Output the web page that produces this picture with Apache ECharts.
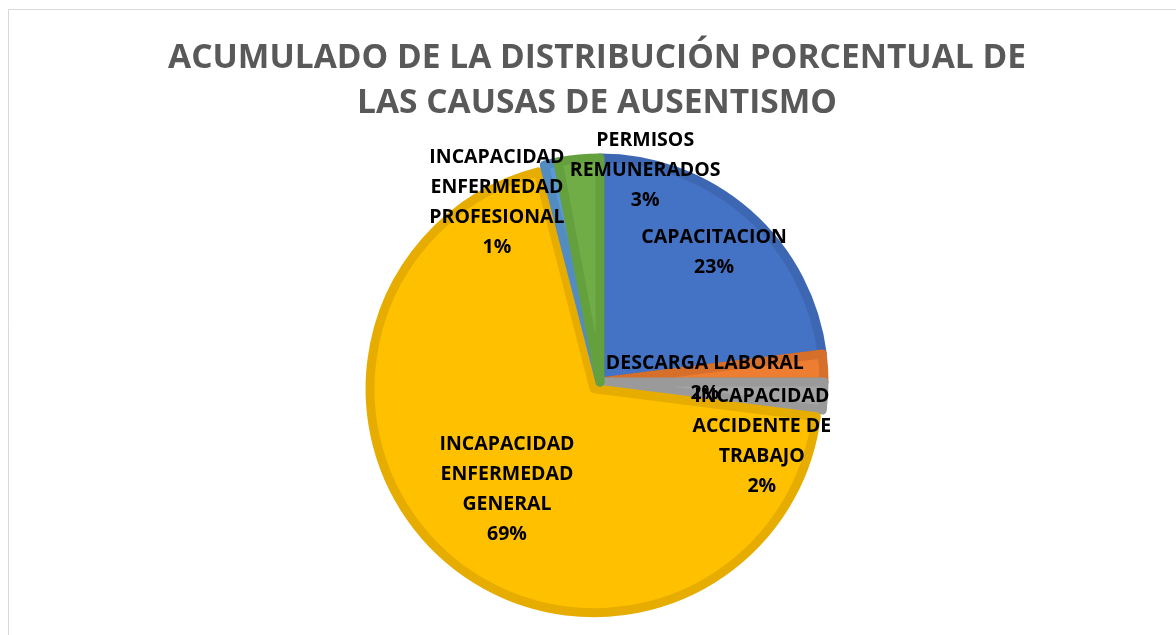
<!DOCTYPE html>
<html>
<head>
<meta charset="utf-8">
<script src="https://cdn.jsdelivr.net/npm/echarts@6/dist/echarts.min.js"></script>
<style>
  html, body { margin: 0; padding: 0; background: #fff; }
  #chart { width: 1176px; height: 635px; }
</style>
</head>
<body>
<div id="chart"></div>
<script>
// categorias (con saltos de linea como en la etiqueta original)
let categories = [
  'CAPACITACION',
  'DESCARGA LABORAL',
  'INCAPACIDAD\nACCIDENTE DE\nTRABAJO',
  'INCAPACIDAD\nENFERMEDAD\nGENERAL',
  'INCAPACIDAD\nENFERMEDAD\nPROFESIONAL',
  'PERMISOS\nREMUNERADOS'
]
let percents = [23, 2, 2, 69, 1, 3]
let colors = ['#4472C4', '#ED7D31', '#A5A5A5', '#FFC000', '#5B9BD5', '#70AD47']
let borders = ['#3D67B3', '#D56F2A', '#9A9A9A', '#E6AD00', '#528CC1', '#65A03F']
// desplazamiento de cada etiqueta respecto a su posicion "inside"
let labelOffsets = [[38, -43], [-10, 4], [47, 52], [-11, 14], [-78, -67], [56, -97]]

let chart = echarts.init(document.getElementById('chart'))

let data = categories.map((name, i) => ({
  name: name,
  value: percents[i],
  selected: i === 3,
  itemStyle: { color: colors[i], borderColor: borders[i] },
  label: { offset: labelOffsets[i] },
  select: { label: { offset: labelOffsets[i] } }
}))

let option = {
  animation: false,
  graphic: [{
    type: 'rect',
    shape: { x: 8.5, y: 9.5, width: 1300, height: 800 },
    style: { fill: null, stroke: '#D9D9D9', lineWidth: 1 },
    silent: true
  }, {
    type: 'text',
    x: 597,
    y: 36,
    silent: true,
    style: {
      text: 'ACUMULADO DE LA DISTRIBUCIÓN PORCENTUAL DE\nLAS CAUSAS DE AUSENTISMO',
      align: 'center',
      fontFamily: 'Open Sans',
      fontWeight: 'bold',
      fontSize: 33.5,
      lineHeight: 45,
      fill: '#595959'
    }
  }],
  series: [{
    type: 'pie',
    center: [600, 382],
    radius: [0, 224],
    startAngle: 90,
    clockwise: true,
    selectedMode: 'single',
    selectedOffset: 9,
    emphasis: { disabled: true },
    itemStyle: { borderWidth: 9, borderJoin: 'round' },
    labelLayout: { hideOverlap: false },
    label: {
      show: true,
      position: 'inside',
      formatter: p => p.name + '\n' + p.value + '%',
      color: '#000',
      fontFamily: 'Open Sans',
      fontWeight: 'bold',
      fontSize: 19.5,
      lineHeight: 30,
      align: 'center'
    },
    labelLine: { show: false },
    data: data
  }]
}
chart.setOption(option)
</script>
</body>
</html>
